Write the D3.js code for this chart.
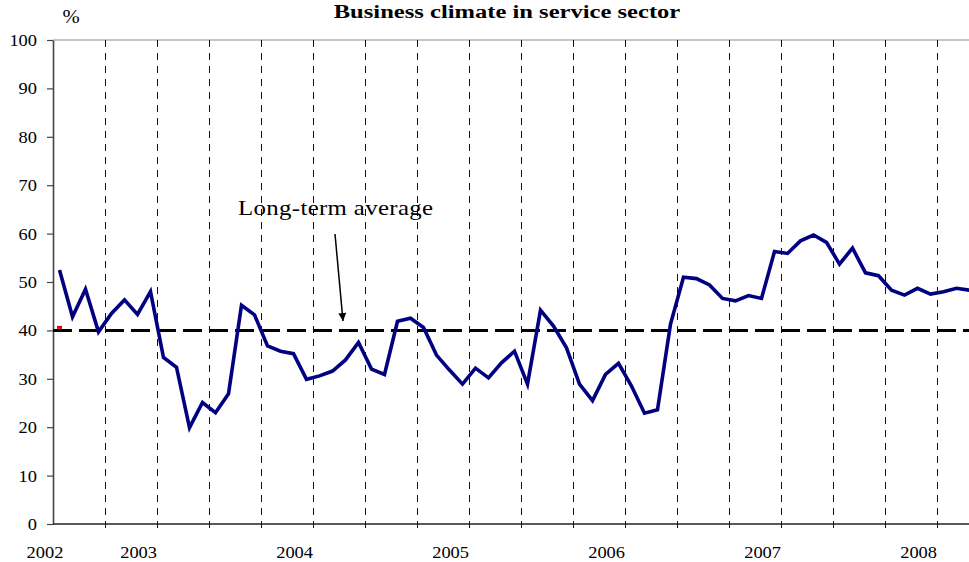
<!DOCTYPE html>
<html>
<head>
<meta charset="utf-8">
<script src="https://cdn.jsdelivr.net/npm/d3@7"></script>
<style>
  html, body { margin: 0; padding: 0; background: #fff; }
  svg { display: block; }
</style>
</head>
<body>
<script>
// Monthly business climate index, service sector (first month: May 2002)
const values = [
  52.5, 42.8, 48.5, 39.7, 43.5, 46.3, 43.3, 48.0, 34.4, 32.4, 19.9, 25.1,
  23.0, 26.9, 45.2, 43.2, 36.8, 35.7, 35.2, 29.9, 30.6, 31.6, 33.9, 37.5,
  32.0, 30.9, 41.9, 42.5, 40.6, 34.9, 31.8, 28.9, 32.2, 30.2, 33.3, 35.7,
  28.9, 44.2, 40.9, 36.4, 28.9, 25.5, 30.9, 33.2, 28.5, 22.9, 23.6, 41.3,
  51.0, 50.7, 49.4, 46.6, 46.1, 47.2, 46.6, 56.3, 55.9, 58.5, 59.7, 58.2,
  53.7, 57.0, 51.9, 51.3, 48.3, 47.3, 48.7, 47.5, 48.0, 48.7, 48.3
];
const longTermAverage = 40;

// Year labels and the month boundary each one ends at
const yearLabels = ["2002", "2003", "2004", "2005", "2006", "2007", "2008"];
const yearLabelEnds = [0.8, 8, 20, 32, 44, 56, 68];

// Vertical gridlines every four months
const gridMonths = [4, 8, 12, 16, 20, 24, 28, 32, 36, 40, 44, 48, 52, 56, 60, 64, 68];
const yTicks = [0, 10, 20, 30, 40, 50, 60, 70, 80, 90, 100];

const W = 969, H = 562;
const FONT = "'Liberation Serif', 'Times New Roman', Times, serif";

const svg = d3.select("body").append("svg")
  .attr("width", W).attr("height", H);

const x = d3.scaleLinear().domain([0, 72]).range([53, 53 + 13 * 72]);
const y = d3.scaleLinear().domain([0, 100]).range([524, 40]);

// Text drawn with a horizontal stretch factor
function stretchedText(g, tx, ty, str, anchor, size, weight, sx) {
  return g.append("text")
    .attr("transform", `translate(${tx},${ty}) scale(${sx || 1.15},1)`)
    .attr("text-anchor", anchor)
    .attr("font-family", FONT)
    .attr("font-size", size)
    .attr("font-weight", weight || "normal")
    .attr("fill", "#000")
    .text(str);
}

// Top border of plot area
svg.append("line")
  .attr("x1", x(0)).attr("x2", W)
  .attr("y1", y(100)).attr("y2", y(100))
  .attr("stroke", "#8c8c8c").attr("stroke-width", 1.2);

// Dashed vertical gridlines
svg.append("g").selectAll("line").data(gridMonths).join("line")
  .attr("x1", d => Math.round(x(d)) + 0.5).attr("x2", d => Math.round(x(d)) + 0.5)
  .attr("y1", y(100)).attr("y2", y(0) + 6)
  .attr("stroke", "#111").attr("stroke-width", 1)
  .attr("stroke-dasharray", "7,6");

// Y axis
const yAxis = d3.axisLeft(y).tickValues(yTicks).tickSize(6).tickSizeOuter(0).tickFormat(d3.format("d"));
const gy = svg.append("g").attr("transform", `translate(${x(0)},0)`).call(yAxis);
gy.select(".domain").attr("stroke", "#444").attr("stroke-width", 1.6);
gy.selectAll(".tick line").attr("stroke", "#444").attr("stroke-width", 1.2);
gy.selectAll(".tick text").remove();
gy.selectAll(".tick").each(function(d) {
  stretchedText(d3.select(this), -16, 5.5, String(d), "end", 16);
});

// X axis baseline
svg.append("line")
  .attr("x1", x(0)).attr("x2", W)
  .attr("y1", y(0)).attr("y2", y(0))
  .attr("stroke", "#222").attr("stroke-width", 1.6);

// Year labels
const gx = svg.append("g");
yearLabels.forEach((lab, i) => {
  stretchedText(gx, x(yearLabelEnds[i]), 558, lab, "end", 16);
});

// Long-term average line
svg.append("line")
  .attr("x1", x(0)).attr("x2", W)
  .attr("y1", y(longTermAverage)).attr("y2", y(longTermAverage))
  .attr("stroke", "#000").attr("stroke-width", 3)
  .attr("stroke-dasharray", "19,7");

// Small red marker of the average series
svg.append("rect")
  .attr("x", x(0.5) - 2.5).attr("y", y(longTermAverage) - 4.5)
  .attr("width", 5).attr("height", 3)
  .attr("fill", "#e00000");

// Index line
const line = d3.line().x((d, i) => x(i + 0.5)).y(d => y(d));
svg.append("path")
  .datum(values)
  .attr("d", line)
  .attr("fill", "none")
  .attr("stroke", "#000080")
  .attr("stroke-width", 3.6)
  .attr("stroke-linejoin", "miter");

// Title and unit
stretchedText(svg, 507, 18, "Business climate in service sector", "middle", 19.5, "bold", 1.26);
stretchedText(svg, 71, 23, "%", "middle", 18);

// Annotation with arrow
stretchedText(svg, 238, 215, "Long-term average", "start", 21.6).attr("letter-spacing", 0.3);
svg.append("defs").append("marker")
  .attr("id", "arrowhead")
  .attr("viewBox", "0 0 10 10")
  .attr("refX", 10).attr("refY", 5)
  .attr("markerWidth", 9).attr("markerHeight", 8)
  .attr("markerUnits", "userSpaceOnUse")
  .attr("orient", "auto")
  .append("path").attr("d", "M0,0 L10,5 L0,10 Z").attr("fill", "#000");
svg.append("line")
  .attr("x1", 335).attr("y1", 234)
  .attr("x2", 343).attr("y2", 321)
  .attr("stroke", "#000").attr("stroke-width", 1.5)
  .attr("marker-end", "url(#arrowhead)");
</script>
</body>
</html>
